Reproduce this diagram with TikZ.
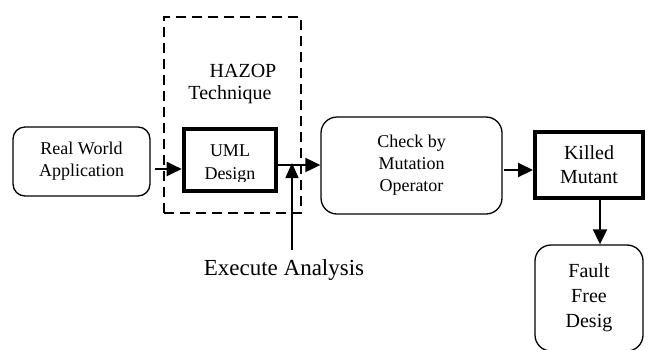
\documentclass[tikz,border=0pt]{standalone}
\usepackage{fontspec}
\setmainfont{Liberation Serif}
\usetikzlibrary{arrows.meta}
\begin{document}
\begin{tikzpicture}[x=1pt,y=-1pt,
  rbox/.style={draw,line width=1.3pt,rounded corners=12pt,inner sep=0pt,align=center,font=\fontsize{18}{22}\selectfont},
  tbox/.style={draw,line width=4pt,inner sep=0pt,align=center,font=\fontsize{20}{24}\selectfont},
  flow/.style={line width=2pt,-{Triangle[length=15pt,width=14pt]}},
  lbl/.style={inner sep=0pt,align=center}]
\useasboundingbox (0,0) rectangle (648,349);
% dashed frame
\node[draw,dash pattern=on 10pt off 6pt,line width=2.3pt,minimum width=137pt,minimum height=196pt] (frame) at (232.5,115) {};
\node[lbl,font=\fontsize{20}{24}\selectfont] (hazop) at (243,71) {HAZOP};
\node[lbl,font=\fontsize{20}{24}\selectfont] (tech) at (230,95) {Technique};
% boxes
\node[rbox,minimum width=137pt,minimum height=69pt] (rw) at (81.5,161.5) {Real World\\Application};
\node[draw,line width=4pt,minimum width=92.6pt,minimum height=62pt,inner sep=0pt] (uml) at (230,160) {};
\begin{scope}
  \clip (184,129) rectangle (276,181.5);
  \node[lbl,font=\fontsize{18}{23}\selectfont] (umltext) at (230,164) {UML\\Design};
\end{scope}
\node[rbox,rounded corners=16pt,minimum width=181pt,minimum height=97pt] (chk) at (411.5,165.5) {Check by\\Mutation\\Operator};
\node[tbox,minimum width=108pt,minimum height=66pt] (kill) at (589,165) {Killed\\Mutant};
\node[rbox,rounded corners=16pt,minimum width=108pt,minimum height=106pt,font=\fontsize{20}{25}\selectfont] (fault) at (589,298) {Fault\\Free\\Desig};
\node[lbl,font=\fontsize{23}{27}\selectfont] (exec) at (284,270) {Execute Analysis};
% connectors
\draw[flow] ([xshift=4pt,yshift=-7.5pt]rw.east) -- ([yshift=-9pt]uml.west);
\draw[flow] ([yshift=-5pt]uml.east) -- ([yshift=0.5pt]chk.west);
\draw[flow] ([xshift=1pt,yshift=-4.5pt]chk.east) -- ([yshift=-5pt]kill.west);
\draw[flow] ([xshift=11pt]kill.south) -- ([xshift=11pt]fault.north);
\coordinate (ea) at (292,250);
\coordinate (join) at (292,163);
\draw[line width=1.5pt,-{Triangle[length=15pt,width=13pt]}] (ea) -- (join);
\end{tikzpicture}
\end{document}
